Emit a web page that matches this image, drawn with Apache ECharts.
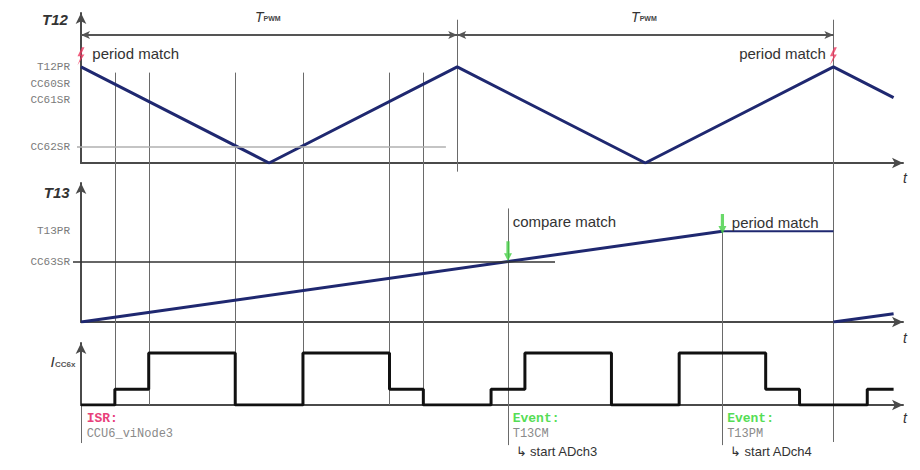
<!DOCTYPE html>
<html><head><meta charset="utf-8">
<script src="https://cdn.jsdelivr.net/npm/echarts@6/dist/echarts.min.js"></script>
<style>html,body{margin:0;padding:0;background:#fff}#c{width:920px;height:470px}</style>
</head><body><div id="c"></div>
<script>
// ---- data (time unit: T_PWM = 200) ----
const TIME_MAX = 437;
const T_PWM_BOUNDS = [0, 200, 400];
const T12_TIME = [0, 100, 200, 300, 400, 432];
const T12_COUNT = [100, 0, 100, 0, 100, 68];
const T12_LEVEL_NAMES = ['T12PR', 'CC60SR', 'CC61SR', 'CC62SR'];
const T12_LEVEL_VALUES = [100, 82, 66, 17];
const T12_PERIOD_MATCH_TIMES = [0, 400];
const T12_COMPARE_TIMES = [18, 36, 82, 118, 164, 182];
const T13_TIME = [0, 341, 400];
const T13_COUNT = [0, 100, 100];
const T13_NEXT_TIME = [400, 432];
const T13_NEXT_COUNT = [0, 9];
const T13_LEVEL_NAMES = ['T13PR', 'CC63SR'];
const T13_LEVEL_VALUES = [100, 66];
const T13_EVENT_TIMES = [227, 341];       // compare match, period match
const T13_EVENT_NAMES = ['T13CM', 'T13PM'];
const T13_EVENT_ADC = ['start ADch3', 'start ADch4'];
const I_TIME  = [0, 18, 36, 82, 118, 164, 182, 218, 236, 282, 318, 364, 382, 418, 432];
const I_LEVEL = [0, 0.3, 1, 0, 1, 0.3, 0, 0.3, 1, 0, 1, 0.3, 0, 0.3, 0.3];

const zip = (a, b) => a.map((x, i) => [x, b[i]]);
const NAVY = '#1f2870', AX = '#4a4a4a', GRID_LINE = '#6a6a6a';

const chart = echarts.init(document.getElementById('c'), null, {renderer: 'svg', width: 920, height: 470});

function xAxis(i) {
  return {type: 'value', gridIndex: i, min: 0, max: TIME_MAX,
    axisLine: {show: true, onZero: false, lineStyle: {color: AX, width: 2}, symbol: ['none', 'arrow'], symbolSize: [8, 11]},
    axisTick: {show: false}, axisLabel: {show: false}, splitLine: {show: false}};
}
function yAxis(i, max, names, values, tickVals, tickColor, tickLen) {
  return {type: 'value', gridIndex: i, min: 0, max: max,
    axisLine: {show: true, onZero: false, lineStyle: {color: AX, width: 2}, symbol: ['none', 'arrow'], symbolSize: [8, 11]},
    splitLine: {show: false},
    axisTick: {show: tickVals.length > 0, customValues: tickVals, length: tickLen, lineStyle: {color: tickColor, width: 1.5}},
    axisLabel: {show: names.length > 0, customValues: values, margin: 11,
      formatter: v => { const k = values.indexOf(v); return k >= 0 ? names[k] : ''; },
      fontFamily: 'Liberation Mono', fontSize: 11, color: '#7a7a7a'}};
}

const option = {
  animation: false,
  grid: [
    {left: 81, top: 13, width: 822, height: 150},
    {left: 81, top: 183, width: 822, height: 139},
    {left: 81, top: 343, width: 822, height: 62}
  ],
  xAxis: [xAxis(0), xAxis(1), xAxis(2)],
  yAxis: [
    yAxis(0, 156, T12_LEVEL_NAMES, T12_LEVEL_VALUES, [T12_LEVEL_VALUES[3]], '#aaa', 4),
    yAxis(1, 153, T13_LEVEL_NAMES, T13_LEVEL_VALUES, [T13_LEVEL_VALUES[1]], '#333', 8),
    yAxis(2, 1.19, [], [], [], '#333', 0)
  ],
  series: [
    {type: 'line', xAxisIndex: 0, yAxisIndex: 0, data: zip(T12_TIME, T12_COUNT), symbol: 'none',
      lineStyle: {color: NAVY, width: 3}, z: 3,
      markLine: {silent: true, animation: false, label: {show: false},
        data: [
          [{coord: [T_PWM_BOUNDS[0], 133], symbol: 'arrow', symbolSize: [6, 9], lineStyle: {color: '#555', width: 2, type: 'solid'}},
           {coord: [T_PWM_BOUNDS[1], 133], symbol: 'arrow', symbolSize: [6, 9]}],
          [{coord: [T_PWM_BOUNDS[1], 133], symbol: 'arrow', symbolSize: [6, 9], lineStyle: {color: '#555', width: 2, type: 'solid'}},
           {coord: [T_PWM_BOUNDS[2], 133], symbol: 'arrow', symbolSize: [6, 9]}],
          [{coord: [0, T12_LEVEL_VALUES[3]], symbol: 'none', lineStyle: {color: '#b0b0b0', width: 1.5, type: 'solid'}},
           {coord: [194, T12_LEVEL_VALUES[3]], symbol: 'none'}]
        ]}},
    {type: 'scatter', xAxisIndex: 0, yAxisIndex: 0, clip: false, z: 5,
      data: T12_PERIOD_MATCH_TIMES.map(t => [t, 111]),
      symbol: 'path://M6,0 L1,10 L5,10 L1,20 L9,8 L5,8 L9,0 Z', symbolSize: [7, 18],
      itemStyle: {color: '#ee3a60'}},
    {type: 'line', xAxisIndex: 1, yAxisIndex: 1, data: zip(T13_TIME.slice(0, 2), T13_COUNT.slice(0, 2)), symbol: 'none',
      lineStyle: {color: NAVY, width: 3}, z: 3,
      markLine: {silent: true, animation: false, label: {show: false}, symbol: 'none',
        data: [[{coord: [0, T13_LEVEL_VALUES[1]], lineStyle: {color: '#333', width: 1.5, type: 'solid'}},
                {coord: [252, T13_LEVEL_VALUES[1]]}]]}},
    {type: 'line', xAxisIndex: 1, yAxisIndex: 1, data: zip(T13_TIME.slice(1), T13_COUNT.slice(1)), symbol: 'none',
      lineStyle: {color: NAVY, width: 2}, z: 3},
    {type: 'line', xAxisIndex: 1, yAxisIndex: 1, data: zip(T13_NEXT_TIME, T13_NEXT_COUNT), symbol: 'none',
      lineStyle: {color: NAVY, width: 3}, z: 3},
    {type: 'scatter', xAxisIndex: 1, yAxisIndex: 1, clip: false, z: 5,
      data: [[T13_EVENT_TIMES[0], 78], [T13_EVENT_TIMES[1], 108]],
      symbol: 'path://M3,0 L7,0 L7,12 L10,12 L5,20 L0,12 L3,12 Z', symbolSize: [8, 20],
      itemStyle: {color: '#44d044'}},
    {type: 'line', xAxisIndex: 2, yAxisIndex: 2, data: zip(I_TIME, I_LEVEL), step: 'end', symbol: 'none',
      lineStyle: {color: '#111', width: 3}, z: 3}
  ]
};
chart.setOption(option);

// ---- overlay (vertical event lines, annotations) positioned through the axes ----
const px = t => chart.convertToPixel({xAxisIndex: 0}, t);
const py = (p, v) => chart.convertToPixel({yAxisIndex: p}, v);
const els = [];
function vline(t, p1, v1, p2, v2) {
  const x = Math.round(px(t)) + 0.5;
  els.push({type: 'line', z: 1, silent: true,
    shape: {x1: x, y1: py(p1, v1), x2: x, y2: py(p2, v2)},
    style: {stroke: GRID_LINE, lineWidth: 1}});
}
T12_COMPARE_TIMES.forEach(t => vline(t, 0, 94, 2, 0));
vline(T_PWM_BOUNDS[1], 0, 149, 0, -9);
vline(T_PWM_BOUNDS[2], 0, 149, 2, -0.71);
vline(T13_EVENT_TIMES[0], 1, 125, 2, -0.77);
vline(T13_EVENT_TIMES[1], 1, 100, 2, -0.77);
vline(0, 2, 0, 2, -0.73);

function txt(p, t, v, text, font, fill, align) {
  els.push({type: 'text', z: 10, silent: true, x: px(t), y: py(p, v),
    style: {text: text, font: font, fill: fill, align: align, textAlign: align,
            verticalAlign: 'middle', textVerticalAlign: 'middle'}});
}
const SANS = 'Liberation Sans', MONO = 'Liberation Mono';
txt(0, -7, 149, 'T12', 'bold italic 15px ' + SANS, '#333', 'right');
txt(1, -6, 142, 'T13', 'bold italic 15px ' + SANS, '#333', 'right');
txt(2, -14, 0.83, 'I', 'italic 15px ' + SANS, '#333', 'right');
txt(2, -3, 0.78, 'CC6x', 'bold 8px ' + SANS, '#555', 'right');
[0, 1, 2].forEach((p, i) => txt(p, 438, [-16, -17.6, -0.25][i], 't', 'italic 14px ' + SANS, '#333', 'center'));
[0, 1].forEach(k => {
  const mid = (T_PWM_BOUNDS[k] + T_PWM_BOUNDS[k + 1]) / 2;
  txt(0, mid - 3, 152, 'T', 'italic 14px ' + SANS, '#333', 'right');
  txt(0, mid - 3, 150, 'PWM', 'bold 7px ' + SANS, '#444', 'left');
});
txt(0, 6, 114, 'period match', '15px ' + SANS, '#333', 'left');
txt(0, 396, 114, 'period match', '15px ' + SANS, '#333', 'right');
txt(1, 229.5, 111, 'compare match', '15px ' + SANS, '#333', 'left');
txt(1, 346, 110, 'period match', '15px ' + SANS, '#333', 'left');
txt(2, 3, -0.25, 'ISR:', 'bold 13px ' + MONO, '#e8407a', 'left');
txt(2, 3, -0.56, 'CCU6_viNode3', '12px ' + MONO, '#8a8a8a', 'left');
T13_EVENT_TIMES.forEach((t, i) => {
  txt(2, t + 2.5, -0.25, 'Event:', 'bold 13px ' + MONO, '#55dd55', 'left');
  txt(2, t + 2.5, -0.56, T13_EVENT_NAMES[i], '12px ' + MONO, '#8a8a8a', 'left');
  txt(2, t + 4, -0.9, '\u21b3 ' + T13_EVENT_ADC[i], '13px ' + SANS, '#333', 'left');
});
chart.setOption({graphic: {elements: els}});
</script>
</body></html>
